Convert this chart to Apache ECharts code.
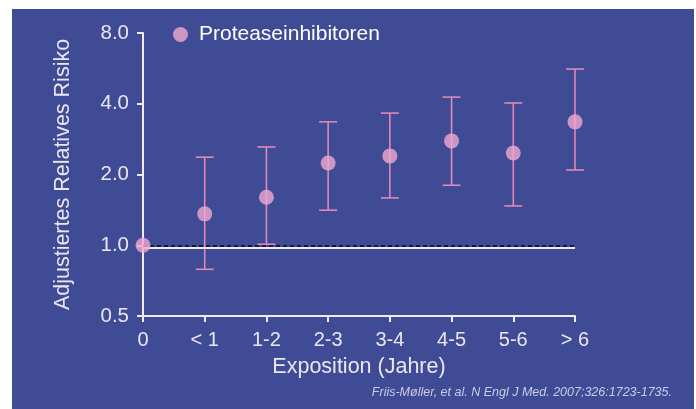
<!DOCTYPE html>
<html>
<head>
<meta charset="utf-8">
<script src="https://cdn.jsdelivr.net/npm/echarts@6/dist/echarts.min.js"></script>
<style>
html,body{margin:0;padding:0;background:#ffffff;}
#chart{width:696px;height:409px;}
</style>
</head>
<body>
<div id="chart"></div>
<script>
const categories = ['0', '< 1', '1-2', '2-3', '3-4', '4-5', '5-6', '> 6'];
const riskValues = [1.0, 1.36, 1.60, 2.24, 2.40, 2.78, 2.47, 3.35];
const ciLow = [null, 0.79, 1.01, 1.41, 1.59, 1.80, 1.47, 2.09];
const ciHigh = [null, 2.37, 2.62, 3.35, 3.65, 4.27, 4.03, 5.62];
const yTicks = [0.5, 1.0, 2.0, 4.0, 8.0];
const seriesName = 'Proteaseinhibitoren';
const referenceDashed = 1.0;
const referenceSolid = 0.983;

const FONT = 'Liberation Sans, Arial, sans-serif';
const TEXT = '#ece6f2';
const AXIS = '#f6eaf2';

const errorData = categories.map((c, i) => [i, ciLow[i], ciHigh[i]]).filter(d => d[1] != null);

const chart = echarts.init(document.getElementById('chart'));
chart.setOption({
  animation: false,
  graphic: [
    { type: 'rect', z: -10, silent: true, shape: { x: 12, y: 9, width: 682, height: 400 }, style: { fill: '#3f4b94' } },
    { type: 'text', right: 24, top: 386, style: { text: 'Friis-Møller, et al. N Engl J Med. 2007;326:1723-1735.', fill: '#c9cbe8', font: 'italic 12.5px ' + FONT, textAlign: 'right' } }
  ],
  legend: {
    left: 168, top: 19,
    icon: 'circle', itemWidth: 15, itemHeight: 15, itemGap: 6,
    textStyle: { color: '#ffffff', fontSize: 21, fontFamily: FONT, padding: [0, 0, 0, 6] },
    data: [seriesName]
  },
  grid: { left: 143, right: 121, top: 33, bottom: 93 },
  xAxis: {
    type: 'category', data: categories, boundaryGap: false,
    name: 'Exposition (Jahre)', nameLocation: 'middle', nameGap: 40,
    nameTextStyle: { color: TEXT, fontSize: 21.5, fontFamily: FONT },
    axisLine: { lineStyle: { color: AXIS, width: 2 } },
    axisTick: { show: true, length: 6, lineStyle: { color: AXIS, width: 2 }, alignWithLabel: true },
    axisLabel: { color: TEXT, fontSize: 20, fontFamily: FONT, margin: 14 },
    splitLine: { show: false }
  },
  yAxis: {
    type: 'log', logBase: 2, min: yTicks[0], max: yTicks[yTicks.length - 1], splitNumber: 4,
    name: 'Adjustiertes Relatives Risiko', nameLocation: 'middle', nameGap: 69, nameRotate: 90,
    nameTextStyle: { color: TEXT, fontSize: 21.5, fontFamily: FONT },
    axisLine: { show: true, lineStyle: { color: AXIS, width: 2 } },
    axisTick: { show: true, length: 6, lineStyle: { color: AXIS, width: 2 } },
    axisLabel: { color: TEXT, fontSize: 20.5, fontFamily: FONT, margin: 14, formatter: v => Number(v).toFixed(1) },
    splitLine: { show: false }
  },
  series: [
    {
      type: 'custom', name: 'CI', z: 3,
      data: errorData,
      renderItem: function (params, api) {
        const x = api.value(0);
        const lo = api.coord([x, api.value(1)]);
        const hi = api.coord([x, api.value(2)]);
        const hw = 9;
        const style = { stroke: '#e287b8', lineWidth: 1.6 };
        return {
          type: 'group',
          children: [
            { type: 'line', shape: { x1: hi[0], y1: hi[1], x2: lo[0], y2: lo[1] }, style: style },
            { type: 'line', shape: { x1: hi[0] - hw, y1: hi[1], x2: hi[0] + hw, y2: hi[1] }, style: style },
            { type: 'line', shape: { x1: lo[0] - hw, y1: lo[1], x2: lo[0] + hw, y2: lo[1] }, style: style }
          ]
        };
      }
    },
    {
      type: 'scatter', name: seriesName, z: 5,
      data: riskValues,
      symbol: 'circle', symbolSize: 15,
      itemStyle: { color: '#f0a9cf' },
      markLine: {
        silent: true, symbol: 'none', label: { show: false },
        data: [
          { yAxis: referenceSolid, lineStyle: { color: '#eceaf4', width: 2, type: 'solid' } },
          { yAxis: referenceDashed, lineStyle: { color: '#0d0d1a', width: 1.5, type: [4, 3] } }
        ]
      }
    }
  ]
});
</script>
</body>
</html>
